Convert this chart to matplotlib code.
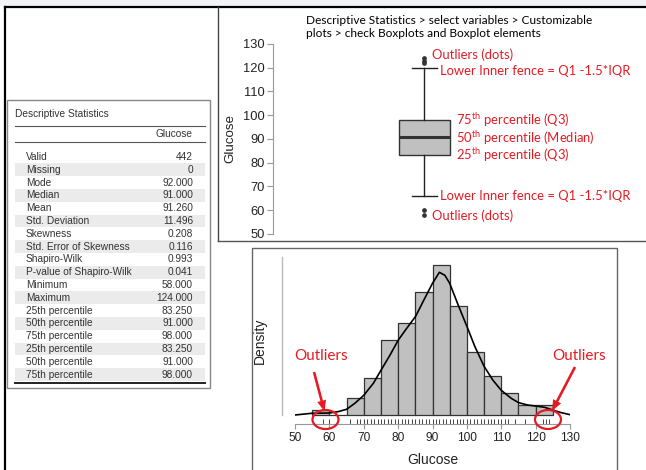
import matplotlib
matplotlib.use('Agg')

import matplotlib.pyplot as plt
from matplotlib.patches import Rectangle, Ellipse, FancyArrow

plt.rcParams['mathtext.fontset'] = 'custom'
plt.rcParams['mathtext.rm'] = 'Lato'
plt.rcParams['mathtext.it'] = 'Lato:italic'
plt.rcParams['mathtext.bf'] = 'Lato:bold'

# Descriptive statistics table (JASP output)
stat_names = ['Valid', 'Missing', 'Mode', 'Median', 'Mean', 'Std. Deviation',
              'Skewness', 'Std. Error of Skewness', 'Shapiro-Wilk',
              'P-value of Shapiro-Wilk', 'Minimum', 'Maximum',
              '25th percentile', '50th percentile', '75th percentile',
              '25th percentile', '50th percentile', '75th percentile']
stat_values = ['442', '0', '92.000', '91.000', '91.260', '11.496', '0.208',
               '0.116', '0.993', '0.041', '58.000', '124.000', '83.250',
               '91.000', '98.000', '83.250', '91.000', '98.000']

# Boxplot summary
q1 = 83.25
med = 91.0
q3 = 98.0
whisker_lo = 66
whisker_hi = 120
outliers = [58, 60, 122, 123, 124]

# Histogram: bin left edges (width 5) and counts
bin_left = [55, 60, 65, 70, 75, 80, 85, 90, 95, 100, 105, 110, 115, 120]
bin_count = [3, 0, 10, 22, 44, 54, 72, 88, 64, 37, 23, 13, 6, 6]
n_obs = 442

# Density curve
kde_x = [50.0, 54.8, 60.0, 62.6, 65.0, 67.4, 70.0, 72.8, 75.0, 77.6, 80.0,
         82.5, 85.1, 87.3, 90.0, 92.0, 93.6, 95.0, 97.5, 100.0, 102.3, 105.0,
         107.6, 110.0, 112.9, 115.0, 117.7, 119.9, 122.6, 125.0, 127.4, 129.9]
kde_y = [0.00008, 0.00053, 0.00061, 0.00098, 0.00159, 0.00317, 0.00529,
         0.00847, 0.0119, 0.01587, 0.01984, 0.02302, 0.02619, 0.03016,
         0.03492, 0.03783, 0.03704, 0.03492, 0.0291, 0.02354, 0.01825,
         0.01296, 0.00926, 0.00661, 0.0045, 0.00336, 0.00272, 0.00246,
         0.00212, 0.0014, 0.00071, 0.00019]

# Unique glucose values for the rug
rug_x = [58, 60, 66, 68, 69, 70, 71, 72, 73, 74, 75, 76, 77, 78, 79, 80, 81,
         82, 83, 84, 85, 86, 87, 88, 89, 90, 91, 92, 93, 94, 95, 96, 97, 98,
         99, 100, 101, 102, 103, 104, 105, 106, 107, 108, 109, 110, 111, 112,
         114, 117, 122, 123, 124]

W, H = 646, 470
RED = '#e31b23'
CAL = 'Lato'
ARIAL = 'Liberation Sans'

fig = plt.figure(figsize=(W / 100, H / 100), dpi=100)
fig.patch.set_facecolor('white')


def px_axes(x0, y0, x1, y1, z=1):
    # axes placed by pixel box (top-left origin)
    a = fig.add_axes([x0 / W, 1 - y1 / H, (x1 - x0) / W, (y1 - y0) / H], zorder=z)
    a.patch.set_visible(False)
    return a


# ---- background layer: panel frames and the table
bg = px_axes(0, 0, W, H, z=0)
bg.set_xlim(0, W)
bg.set_ylim(H, 0)
bg.axis('off')

bg.add_patch(Rectangle((0, 0), W, 6, color='#f1f3f8', lw=0))
bg.plot([5, W], [7, 7], color='black', lw=1.6)
bg.plot([5, 5], [7, H], color='black', lw=1.6)
bg.plot([218, 218], [7, 241], color='#444444', lw=1.0)
bg.plot([218, W], [241, 241], color='#555555', lw=1.0)
bg.add_patch(Rectangle((252, 248), 365, 230, fill=False, ec='#666666', lw=1.0))
bg.add_patch(Rectangle((7, 100), 203, 288, fill=False, ec='#888888', lw=1.0))

tfont = dict(family=ARIAL, fontsize=7.3, color='#333333', va='center')
bg.text(15, 114, 'Descriptive Statistics', ha='left', **tfont)
bg.plot([15, 205], [126, 126], color='#555555', lw=0.8)
bg.text(193, 134, 'Glucose', ha='right', **tfont)
bg.plot([15, 205], [142, 142], color='#555555', lw=0.8)

row_y0 = 157
row_h = 12.8
for i, (name, val) in enumerate(zip(stat_names, stat_values)):
    y = row_y0 + i * row_h
    if i % 2 == 1:
        bg.add_patch(Rectangle((15, y - row_h / 2), 190, row_h, color='#ebebeb', lw=0))
    bg.text(26, y, name, ha='left', **tfont)
    bg.text(193, y, val, ha='right', **tfont)
bg.plot([15, 205], [383, 383], color='#222222', lw=1.4)

# how-to caption above the boxplot
bg.text(306, 15, 'Descriptive Statistics > select variables > Customizable\n'
        'plots > check Boxplots and Boxplot elements', family=CAL, fontsize=8.6,
        color='black', va='top', ha='left', linespacing=1.18)

# ---- boxplot
bx = px_axes(273, 44, W, 234)
bx.set_xlim(273, W)
bx.set_ylim(50, 130)
box_stats = [dict(med=med, q1=q1, q3=q3, whislo=whisker_lo, whishi=whisker_hi,
                  fliers=outliers)]
bx.bxp(box_stats, positions=[424], widths=51, capwidths=25, patch_artist=True,
       manage_ticks=False,
       boxprops=dict(facecolor='#c0c0c0', edgecolor='#333333', lw=1.0),
       medianprops=dict(color='#333333', lw=2.2),
       whiskerprops=dict(color='#222222', lw=1.0),
       capprops=dict(color='#222222', lw=1.0),
       flierprops=dict(marker='o', markersize=2.4, markerfacecolor='#333333',
                       markeredgecolor='#333333'))
for s in ['top', 'right', 'bottom']:
    bx.spines[s].set_visible(False)
bx.spines['left'].set_color('#999999')
bx.spines['left'].set_linewidth(0.8)
bx.set_xticks([])
bx.set_yticks(range(50, 131, 10))
bx.tick_params(axis='y', length=4, width=0.8, color='#999999', labelsize=9.3,
               labelcolor='#222222', pad=2)
for lbl in bx.get_yticklabels():
    lbl.set_family(ARIAL)
bx.set_ylabel('Glucose', family=ARIAL, fontsize=9.6, color='#222222', labelpad=5)

ann = dict(family=CAL, fontsize=9.4, color=RED, va='center', ha='left')
bx.text(432, 125.4, 'Outliers (dots)', **ann)
bx.text(440, whisker_hi - 1.2, 'Lower Inner fence = Q1 -1.5*IQR', **ann)
bx.text(456, q3, r'75$^{\mathrm{th}}$ percentile (Q3)', **ann)
bx.text(456, med - 0.5, r'50$^{\mathrm{th}}$ percentile (Median)', **ann)
bx.text(456, q1, r'25$^{\mathrm{th}}$ percentile (Q3)', **ann)
bx.text(440, whisker_lo, 'Lower Inner fence = Q1 -1.5*IQR', **ann)
bx.text(432, 57.6, 'Outliers (dots)', **ann)

# ---- histogram with density and rug
hx = px_axes(295, 257, 570, 424)
hx.set_xlim(50, 130)
hx.set_ylim(-0.0023, 0.04188)
bin_density = [c / (n_obs * 5) for c in bin_count]
hx.bar(bin_left, bin_density, width=5, align='edge', color='#c0c0c0',
       edgecolor='#333333', lw=0.9, zorder=2)
hx.plot(kde_x, kde_y, color='black', lw=1.2, zorder=3)
hx.vlines(rug_x, -0.0022, -0.0011, color='#444444', lw=0.7)
hx.spines['top'].set_visible(False)
hx.spines['right'].set_visible(False)
hx.spines['bottom'].set_color('#999999')
hx.spines['bottom'].set_linewidth(0.8)
hx.spines['left'].set_position(('outward', 9.4))
hx.spines['left'].set_bounds(0, 0.04188)
hx.spines['left'].set_color('#bbbbbb')
hx.spines['left'].set_linewidth(1.0)
hx.set_yticks([])
hx.set_xticks(range(50, 131, 10))
hx.tick_params(axis='x', length=3.5, width=0.8, color='#999999', labelsize=8.6,
               labelcolor='#222222', pad=2.5)
for lbl in hx.get_xticklabels():
    lbl.set_family(ARIAL)
hx.set_xlabel('Glucose', family=ARIAL, fontsize=10, color='#222222', labelpad=6)
hx.set_ylabel('Density', family=ARIAL, fontsize=10, color='#222222', labelpad=11)

# ---- outlier callouts on the histogram
fg = px_axes(0, 0, W, H, z=5)
fg.set_xlim(0, W)
fg.set_ylim(H, 0)
fg.axis('off')
fg.text(321, 356, 'Outliers', family=CAL, fontsize=11, color=RED, ha='center', va='center')
fg.text(579, 356, 'Outliers', family=CAL, fontsize=11, color=RED, ha='center', va='center')
fg.add_patch(FancyArrow(314, 372, 10.5, 39.5, width=2.6, head_width=9,
                        head_length=11, length_includes_head=True, color=RED, lw=0))
fg.add_patch(FancyArrow(575, 367, -23, 44, width=2.6, head_width=9,
                        head_length=11, length_includes_head=True, color=RED, lw=0))
fg.add_patch(Ellipse((325.5, 419.5), 26, 19, fill=False, ec=RED, lw=1.6))
fg.add_patch(Ellipse((548, 419.5), 26, 19, fill=False, ec=RED, lw=1.6))

fig.savefig('out.png', dpi=100)
